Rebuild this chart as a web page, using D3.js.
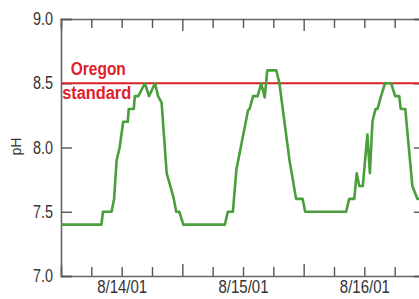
<!DOCTYPE html>
<html>
<head>
<meta charset="utf-8">
<script src="https://cdn.jsdelivr.net/npm/d3@7"></script>
<style>
  body { margin: 0; background: #fff; }
  #chart text { font-family: "Liberation Sans", Arial, sans-serif; }
</style>
</head>
<body>
<div id="chart"></div>
<script>
// hours since 8/14/01 00:00
const hours = [0, 8.0, 8.3, 10.0, 10.5, 11.0, 11.6, 12.3, 13.2, 13.4, 14.4, 14.6, 15.3, 16.6, 17.4, 18.6, 19.2, 19.9,
  20.9, 22.2, 22.8, 23.4, 24.2, 32.4, 33.0, 34.0, 34.7, 35.7, 37.0, 37.3, 38.0, 38.9, 39.6, 40.3, 40.8, 42.6,
  43.2, 45.2, 46.5, 47.8, 48.3, 56.4, 57.0, 58.0, 58.5, 59.0, 59.7, 60.6, 61.1, 61.6, 62.2, 62.6, 63.3, 64.1,
  65.3, 66.1, 66.9, 67.2, 68.1, 69.5, 70.5, 72.0];
const ph = [7.4, 7.4, 7.5, 7.5, 7.6, 7.9, 8.0, 8.2, 8.2, 8.3, 8.3, 8.4, 8.4, 8.5, 8.4, 8.5, 8.4, 8.35,
  7.8, 7.62, 7.5, 7.5, 7.4, 7.4, 7.5, 7.5, 7.83, 8.03, 8.29, 8.3, 8.4, 8.4, 8.5, 8.39, 8.6, 8.6,
  8.5, 7.9, 7.6, 7.6, 7.5, 7.5, 7.6, 7.6, 7.8, 7.7, 7.7, 8.1, 7.8, 8.2, 8.3, 8.3, 8.4, 8.5,
  8.5, 8.4, 8.4, 8.3, 8.3, 7.7, 7.6, 7.6];
const yTicks = [7.0, 7.5, 8.0, 8.5, 9.0];
const dayLabels = ['8/14/01', '8/15/01', '8/16/01'];
const standard = 8.5;
const standardLabel = ['Oregon', 'standard'];

const start = new Date(2001, 7, 14, 0);
const toDate = h => new Date(start.getTime() + h * 3600 * 1000);
const data = hours.map((h, i) => ({ date: toDate(h), ph: ph[i] }));

const margin = { top: 19, right: -6, bottom: 23, left: 61 };
const W = 419, H = 299;
const width = W - margin.left - margin.right;
const height = H - margin.top - margin.bottom;

const x = d3.scaleTime().domain([start, toDate(72)]).range([0, width]);
const y = d3.scaleLinear().domain([7, 9]).range([height, 0]);

const svg = d3.select('#chart').append('svg')
  .attr('width', W).attr('height', H)
  .append('g')
  .attr('transform', `translate(${margin.left},${margin.top})`);

svg.append('clipPath').attr('id', 'plot')
  .append('rect').attr('width', width).attr('height', height);

const sixHours = d3.range(0, 73, 6).map(toDate);
const isMidnight = d => d.getHours() === 0;

// condensed look: squeeze the glyphs to the widths seen in the picture
function styleAxis(g, textWidth) {
  g.select('.domain').attr('stroke', '#666').attr('stroke-width', 1.6);
  g.selectAll('.tick line').attr('stroke', '#555').attr('stroke-width', 1.4);
  g.selectAll('.tick text').attr('fill', '#333').style('font-size', '17.5px')
    .attr('textLength', textWidth).attr('lengthAdjust', 'spacingAndGlyphs');
}

// top and bottom axes with inward ticks
svg.append('g')
  .call(d3.axisTop(x).tickValues(sixHours).tickSize(-9).tickFormat(''))
  .call(styleAxis)
  .selectAll('.tick line').attr('y2', d => (isMidnight(d) ? 12 : 9));

svg.append('g')
  .attr('transform', `translate(0,${height})`)
  .call(d3.axisBottom(x).tickValues(sixHours).tickSize(-9).tickFormat(''))
  .call(styleAxis)
  .selectAll('.tick line').attr('y2', d => (isMidnight(d) ? -12 : -9));

// day labels at noon
svg.append('g')
  .attr('transform', `translate(0,${height})`)
  .call(d3.axisBottom(x).tickValues(dayLabels.map((d, i) => toDate(12 + 24 * i)))
    .tickSize(0).tickPadding(5).tickFormat((d, i) => dayLabels[i]))
  .call(styleAxis, 50)
  .select('.domain').remove();

// left and right axes
svg.append('g')
  .call(d3.axisLeft(y).tickValues(yTicks).tickSize(-11).tickPadding(8).tickFormat(d3.format('.1f')))
  .call(styleAxis, 20);

svg.append('g')
  .attr('transform', `translate(${width},0)`)
  .call(d3.axisRight(y).tickValues(yTicks).tickSize(-11).tickFormat(''))
  .call(styleAxis);

// pH title
svg.append('text')
  .attr('transform', `translate(${-40},${y(8) - 1}) rotate(-90)`)
  .attr('text-anchor', 'middle')
  .attr('fill', '#333')
  .style('font-size', '14px')
  .text('pH');

// standard line
svg.append('line')
  .attr('x1', 0).attr('x2', width)
  .attr('y1', y(standard)).attr('y2', y(standard))
  .attr('stroke', '#d7202b').attr('stroke-width', 2.2);

svg.append('text')
  .attr('text-anchor', 'middle')
  .attr('fill', '#e0202b')
  .style('font-size', '17.5px').style('font-weight', 'bold')
  .selectAll('tspan').data(standardLabel).join('tspan')
  .attr('x', (d, i) => (i === 0 ? 37.3 : 35.7))
  .attr('y', (d, i) => y(standard) + (i === 0 ? -8 : 16))
  .attr('textLength', (d, i) => (i === 0 ? 55 : 69))
  .attr('lengthAdjust', 'spacingAndGlyphs')
  .text(d => d);

// pH line
const line = d3.line().x(d => x(d.date)).y(d => y(d.ph));
svg.append('path')
  .datum(data)
  .attr('clip-path', 'url(#plot)')
  .attr('fill', 'none')
  .attr('stroke', '#4a9e3c')
  .attr('stroke-width', 2.6)
  .attr('stroke-linejoin', 'round')
  .attr('d', line);
</script>
</body>
</html>
